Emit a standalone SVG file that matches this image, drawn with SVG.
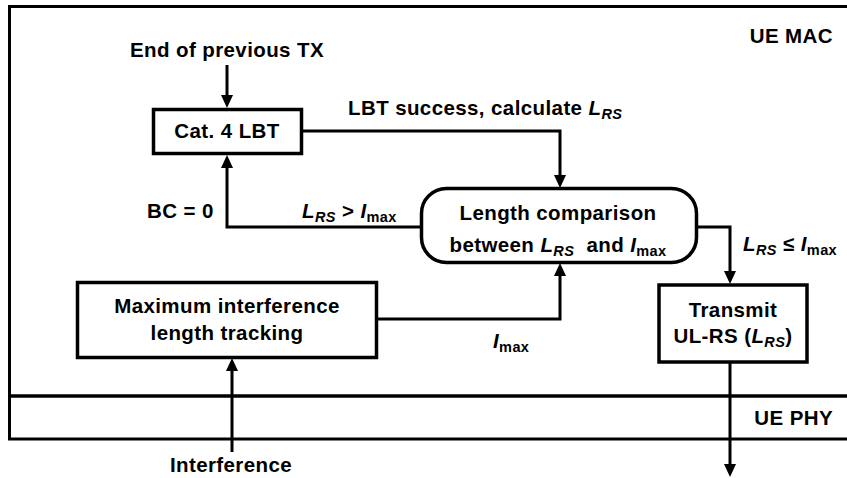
<svg xmlns="http://www.w3.org/2000/svg" width="847" height="478" viewBox="0 0 847 478">
<defs>
<style>
text{font-family:"Liberation Sans",Arial,sans-serif;font-weight:bold;font-size:20.5px;fill:#000;letter-spacing:0.4px}
.c{text-anchor:middle}
.e{text-anchor:end}
.i{font-style:italic}
.s{font-size:14.5px}
.box{fill:#fff;stroke:#000;stroke-width:3.5}
.layer{fill:none;stroke:#000;stroke-width:3}
.ln{fill:none;stroke:#000;stroke-width:3}
</style>
<marker id="ah" viewBox="0 0 13 12" markerWidth="13" markerHeight="12" refX="3" refY="6" orient="auto" markerUnits="userSpaceOnUse">
<path d="M0,0 L13,6 L0,12 z" fill="#000"/>
</marker>
</defs>
<rect width="847" height="478" fill="#fff"/>
<g id="ue-mac">
<rect class="layer" x="9.5" y="6.5" width="850" height="389.5"/>
<text class="e" x="833" y="43">UE MAC</text>
</g>
<g id="ue-phy">
<rect class="layer" x="9.5" y="396" width="850" height="43"/>
<text class="e" x="833" y="425">UE PHY</text>
</g>
<g id="connectors">
<path class="ln" d="M227,65 L227,98" marker-end="url(#ah)"/>
<path class="ln" d="M302,131 L560,131 L560,178" marker-end="url(#ah)"/>
<path class="ln" d="M422,227 L227,227 L227,165" marker-end="url(#ah)"/>
<path class="ln" d="M697,227 L730,227 L730,274" marker-end="url(#ah)"/>
<path class="ln" d="M377,319 L560,319 L560,273" marker-end="url(#ah)"/>
<path class="ln" d="M232,452 L232,368" marker-end="url(#ah)"/>
<path class="ln" d="M730,362 L730,467" marker-end="url(#ah)"/>
<text x="348" y="115">LBT success, calculate <tspan class="i">L</tspan><tspan class="i s" dy="4">RS</tspan></text>
<text x="147" y="218">BC = 0</text>
<text x="302" y="218"><tspan class="i">L</tspan><tspan class="i s" dy="4">RS</tspan><tspan dy="-4"> &gt; </tspan><tspan class="i">I</tspan><tspan class="s" dy="4">max</tspan></text>
<text x="743" y="251"><tspan class="i">L</tspan><tspan class="i s" dy="4">RS</tspan><tspan dy="-4"> ≤ </tspan><tspan class="i">I</tspan><tspan class="s" dy="4">max</tspan></text>
<text x="493" y="348"><tspan class="i">I</tspan><tspan class="s" dy="4">max</tspan></text>
</g>
<g id="end-of-previous-tx">
<text class="c" x="227" y="57">End of previous TX</text>
</g>
<g id="cat4-lbt">
<rect class="box" x="153.5" y="109.5" width="148" height="44"/>
<text class="c" x="227" y="138">Cat. 4 LBT</text>
</g>
<g id="length-comparison">
<rect class="box" x="421.5" y="188.5" width="275" height="74" rx="25"/>
<text class="c" x="558" y="220">Length comparison</text>
<text class="c" x="558" y="252">between <tspan class="i">L</tspan><tspan class="i s" dy="4">RS</tspan><tspan dy="-4">&#160; and </tspan><tspan class="i">I</tspan><tspan class="s" dy="4">max</tspan></text>
</g>
<g id="max-interference">
<rect class="box" x="77.5" y="282.5" width="299" height="75"/>
<text class="c" x="227" y="313">Maximum interference</text>
<text class="c" x="227" y="340">length tracking</text>
</g>
<g id="transmit-ulrs">
<rect class="box" x="659" y="285" width="148" height="77"/>
<text class="c" x="733" y="317">Transmit</text>
<text class="c" x="733" y="343">UL-RS (<tspan class="i">L</tspan><tspan class="i s" dy="4">RS</tspan><tspan dy="-4">)</tspan></text>
</g>
<g id="interference">
<text class="c" x="231" y="472">Interference</text>
</g>
</svg>
